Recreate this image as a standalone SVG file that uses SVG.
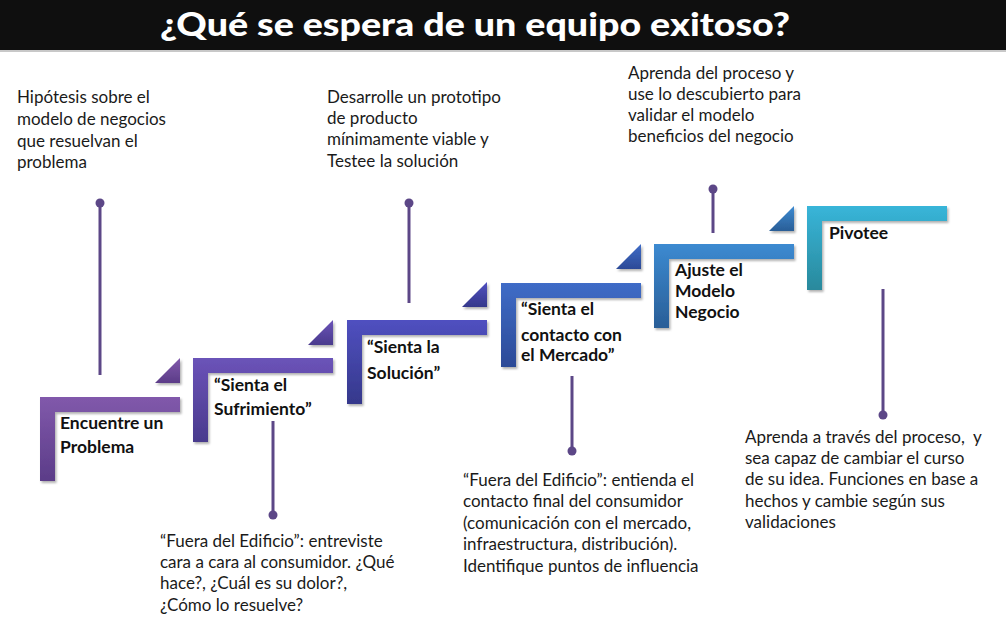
<svg xmlns="http://www.w3.org/2000/svg" width="1006" height="617" viewBox="0 0 1006 617">
<style>
.body{font-family:Lato,"Liberation Sans",sans-serif;font-size:17px;fill:#1a1a1a;white-space:pre}
.lbl{font-family:Lato,"Liberation Sans",sans-serif;font-size:17.5px;font-weight:bold;fill:#111}
.title{font-family:Lato,"Liberation Sans",sans-serif;font-size:32px;font-weight:900;fill:#fff}
.shp{filter:url(#sh)}
.con line{stroke:#5c4787;stroke-width:3}
.con circle{fill:#5c4787}
</style>
<defs>
<filter id="sh" x="-10%" y="-10%" width="130%" height="130%">
<feDropShadow dx="1.5" dy="2" stdDeviation="1.2" flood-color="#000" flood-opacity="0.3"/>
</filter>
<linearGradient id="g1" x1="0" y1="0" x2="0" y2="1"><stop offset="0" stop-color="#8159ab"/><stop offset="1" stop-color="#5b3c88"/></linearGradient>
<linearGradient id="g2" x1="0" y1="0" x2="0" y2="1"><stop offset="0" stop-color="#6b53b8"/><stop offset="1" stop-color="#493a8d"/></linearGradient>
<linearGradient id="g3" x1="0" y1="0" x2="0" y2="1"><stop offset="0" stop-color="#5050c0"/><stop offset="1" stop-color="#35388b"/></linearGradient>
<linearGradient id="g4" x1="0" y1="0" x2="0" y2="1"><stop offset="0" stop-color="#3f6cc7"/><stop offset="1" stop-color="#2c4a97"/></linearGradient>
<linearGradient id="g5" x1="0" y1="0" x2="0" y2="1"><stop offset="0" stop-color="#3c8ad1"/><stop offset="1" stop-color="#2a5e97"/></linearGradient>
<linearGradient id="g6" x1="0" y1="0" x2="0" y2="1"><stop offset="0" stop-color="#38b5d9"/><stop offset="1" stop-color="#29899c"/></linearGradient>
</defs>
<rect width="1006" height="617" fill="#fff"/>
<g id="title">
<rect x="0" y="0" width="1006" height="50" fill="#0f0f0f"/>
<rect x="0" y="50" width="1006" height="2" fill="#c8c8c8"/>
<text class="title" x="475" y="36" text-anchor="middle" textLength="630" lengthAdjust="spacingAndGlyphs">¿Qué se espera de un equipo exitoso?</text>
</g>
<g id="step1">
<path class="shp" d="M40,397H180V412H55V481H40Z" fill="url(#g1)"/>
<path class="shp" d="M180,358V383H155Z" fill="url(#g1)"/>
<text class="lbl" x="60" y="429">Encuentre un</text>
<text class="lbl" x="60" y="453">Problema</text>
</g>
<g id="step2">
<path class="shp" d="M193,358H333V373H208V442H193Z" fill="url(#g2)"/>
<path class="shp" d="M333,320V345H308Z" fill="url(#g2)"/>
<text class="lbl" x="214" y="391">“Sienta el</text>
<text class="lbl" x="214" y="415">Sufrimiento”</text>
</g>
<g id="step3">
<path class="shp" d="M347,320H487V335H362V404H347Z" fill="url(#g3)"/>
<path class="shp" d="M487,282V307H462Z" fill="url(#g3)"/>
<text class="lbl" x="367" y="353">“Sienta la</text>
<text class="lbl" x="367" y="379">Solución”</text>
</g>
<g id="step4">
<path class="shp" d="M501,283H641V298H516V367H501Z" fill="url(#g4)"/>
<path class="shp" d="M641,244V269H616Z" fill="url(#g4)"/>
<text class="lbl" x="521" y="315">“Sienta el</text>
<text class="lbl" x="521" y="341">contacto con</text>
<text class="lbl" x="521" y="361">el Mercado”</text>
</g>
<g id="step5">
<path class="shp" d="M654,244H794V259H669V328H654Z" fill="url(#g5)"/>
<path class="shp" d="M794,206V231H769Z" fill="url(#g5)"/>
<text class="lbl" x="675" y="276">Ajuste el</text>
<text class="lbl" x="675" y="297">Modelo</text>
<text class="lbl" x="675" y="318">Negocio</text>
</g>
<g id="step6">
<path class="shp" d="M807,206H947V221H822V290H807Z" fill="url(#g6)"/>
<text class="lbl" x="829" y="239">Pivotee</text>
</g>
<g id="connectors" class="con">
<line x1="100" y1="203" x2="100" y2="375"/><circle cx="100" cy="203" r="4.5"/>
<line x1="273" y1="421" x2="273" y2="515"/><circle cx="273" cy="515" r="4.5"/>
<line x1="409" y1="203" x2="409" y2="303"/><circle cx="409" cy="203" r="4.5"/>
<line x1="572" y1="376" x2="572" y2="451"/><circle cx="572" cy="451" r="4.5"/>
<line x1="713" y1="189" x2="713" y2="233"/><circle cx="713" cy="189" r="4.5"/>
<line x1="883" y1="289" x2="883" y2="415"/><circle cx="883" cy="415" r="4.5"/>
</g>
<g id="note1">
<text class="body" x="17" y="103">Hipótesis sobre el</text>
<text class="body" x="17" y="125">modelo de negocios</text>
<text class="body" x="17" y="147">que resuelvan el</text>
<text class="body" x="17" y="168">problema</text>
</g>
<g id="note2">
<text class="body" x="160" y="547">“Fuera del Edificio”: entreviste</text>
<text class="body" x="160" y="568">cara a cara al consumidor. ¿Qué</text>
<text class="body" x="160" y="589">hace?, ¿Cuál es su dolor?,</text>
<text class="body" x="160" y="611">¿Cómo lo resuelve?</text>
</g>
<g id="note3">
<text class="body" x="327" y="103">Desarrolle un prototipo</text>
<text class="body" x="327" y="124">de producto</text>
<text class="body" x="327" y="145">mínimamente viable y</text>
<text class="body" x="327" y="167">Testee la solución</text>
</g>
<g id="note4">
<text class="body" x="463" y="486">“Fuera del Edificio”: entienda el</text>
<text class="body" x="463" y="507">contacto final del consumidor</text>
<text class="body" x="463" y="529">(comunicación con el mercado,</text>
<text class="body" x="463" y="550">infraestructura, distribución).</text>
<text class="body" x="463" y="572">Identifique puntos de influencia</text>
</g>
<g id="note5">
<text class="body" x="628" y="79">Aprenda del proceso y</text>
<text class="body" x="628" y="100">use lo descubierto para</text>
<text class="body" x="628" y="121">validar el modelo</text>
<text class="body" x="628" y="142">beneficios del negocio</text>
</g>
<g id="note6">
<text class="body" x="745" y="443">Aprenda a través del proceso,  y</text>
<text class="body" x="745" y="464">sea capaz de cambiar el curso</text>
<text class="body" x="745" y="485">de su idea. Funciones en base a</text>
<text class="body" x="745" y="507">hechos y cambie según sus</text>
<text class="body" x="745" y="528">validaciones</text>
</g>
</svg>
